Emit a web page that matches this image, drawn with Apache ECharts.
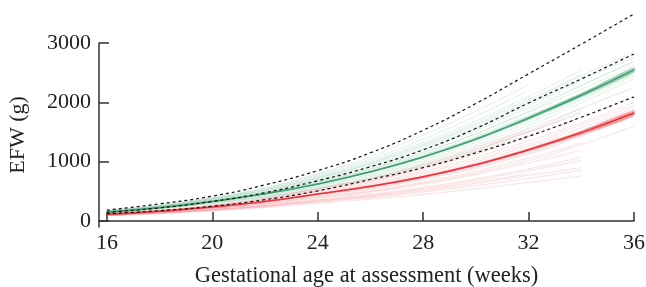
<!DOCTYPE html>
<html>
<head>
<meta charset="utf-8">
<script src="https://cdn.jsdelivr.net/npm/echarts@6/dist/echarts.min.js"></script>
<style>
    html, body { margin: 0; padding: 0; background: #fff; }
    #chart { width: 646px; height: 287px; }
</style>
</head>
<body>
<div id="chart"></div>
<script>
// 孕周 (weeks) 和各曲线的数值 (g)
var weeks = [16, 18, 20, 22, 24, 26, 28, 30, 32, 34, 36];
var refUpper = [185, 290, 420, 610, 850, 1150, 1530, 1980, 2480, 2980, 3490];
var refMedian = [150, 222, 331, 478, 680, 915, 1200, 1560, 1990, 2395, 2816];
var refLower = [125, 175, 250, 360, 510, 700, 900, 1150, 1430, 1750, 2093];
var greenMean = [150, 225, 330, 460, 625, 830, 1080, 1380, 1735, 2120, 2546];
var greenCI = [6, 6, 8, 10, 12, 15, 18, 22, 28, 36, 45];
var redMean = [110, 165, 235, 330, 455, 585, 745, 950, 1200, 1490, 1820];
var redCI = [6, 6, 8, 10, 12, 15, 18, 22, 28, 36, 45];

// 单个胎儿的轨迹 (faint lines)
var thinWeeks = [16, 20, 24, 28, 32, 34, 36];
var greenTrajs = [
    [170, 380, 760, 1330, 2100, 2550, null],
    [165, 360, 720, 1260, 1980, 2380, 2750],
    [160, 350, 690, 1200, 1900, 2290, 2680],
    [155, 345, 670, 1160, 1830, 2220, 2620],
    [150, 335, 640, 1110, 1760, 2150, 2560],
    [150, 330, 625, 1080, 1720, 2110, 2520],
    [145, 320, 600, 1040, 1660, 2040, 2450],
    [145, 315, 590, 1010, 1610, 1990, 2400],
    [140, 305, 570, 980, 1560, 1900, null],
    [175, 390, 780, 1380, 2200, null, null],
    [140, 300, 555, 950, 1500, 1820, null],
    [155, 340, 660, 1150, 1850, 2280, 2700],
    [160, 345, 655, 1120, 1780, 2150, null],
    [150, 330, 630, 1090, 1700, 2070, 2480],
    [135, 295, 540, 920, 1450, null, null],
    [165, 370, 740, 1300, 2050, 2470, null],
    [180, 400, 800, 1450, 2300, null, null],
    [170, 375, 730, 1280, 2020, 2450, 2850],
    [158, 352, 700, 1230, 1950, 2360, null]
];
var redTrajs = [
    [130, 260, 520, 880, 1420, 1750, null],
    [125, 250, 500, 840, 1350, 1660, 2000],
    [120, 240, 470, 780, 1260, 1570, 1900],
    [118, 235, 455, 740, 1200, 1500, 1830],
    [115, 225, 430, 700, 1130, 1430, 1760],
    [112, 220, 410, 660, 1060, 1320, null],
    [110, 210, 385, 620, 980, 1200, null],
    [105, 200, 360, 570, 880, 1080, null],
    [100, 190, 340, 530, 800, null, null],
    [95, 180, 320, 490, 720, 860, null],
    [125, 255, 510, 900, 1500, 1850, null],
    [120, 245, 480, 810, 1300, 1620, 1950],
    [115, 230, 440, 720, 1150, 1450, 1780],
    [108, 215, 395, 640, 1020, 1290, 1600],
    [102, 195, 350, 550, 850, 1020, null],
    [135, 270, 550, 950, 1550, null, null],
    [90, 170, 300, 450, 650, 760, null],
    [98, 185, 330, 510, 770, 900, null],
    [130, 265, 540, 930, 1520, 1900, 2250]
];
var xTicks = [16, 20, 24, 28, 32, 36];
var yTicks = [0, 1000, 2000, 3000];

var GREEN = '#3b9f6c';
var RED = '#e8353c';
var FONT = 'Liberation Serif';

function pairs(xs, ys) {
    var out = [];
    for (var i = 0; i < xs.length; i++) {
        if (ys[i] != null) out.push([xs[i], ys[i]]);
    }
    return out;
}

function lineSeries(data, color, width, type, z) {
    return {
        type: 'line',
        data: data,
        smooth: true,
        symbol: 'none',
        clip: false,
        silent: true,
        z: z,
        lineStyle: { color: color, width: width, type: type }
    };
}

// 均值曲线的置信区间带
function bandSeries(mid, ci, color) {
    var pts = weeks.map(function (w, i) { return [w, mid[i] - ci[i], mid[i] + ci[i]]; });
    return {
        type: 'custom',
        data: pts,
        silent: true,
        clip: false,
        z: 3,
        renderItem: function (params, api) {
            if (params.dataIndex !== 0) return;
            var up = [], lo = [];
            pts.forEach(function (p) {
                up.push(api.coord([p[0], p[2]]));
                lo.unshift(api.coord([p[0], p[1]]));
            });
            return {
                type: 'polygon',
                shape: { points: up.concat(lo), smooth: 0.3 },
                style: { fill: color }
            };
        }
    };
}

var series = [];
greenTrajs.forEach(function (t) {
    series.push(lineSeries(pairs(thinWeeks, t), 'rgba(60,160,110,0.16)', 1, 'solid', 1));
});
redTrajs.forEach(function (t) {
    series.push(lineSeries(pairs(thinWeeks, t), 'rgba(235,60,70,0.16)', 1, 'solid', 1));
});
series.push(bandSeries(greenMean, greenCI, 'rgba(60,160,110,0.45)'));
series.push(bandSeries(redMean, redCI, 'rgba(235,55,60,0.45)'));
series.push(lineSeries(pairs(weeks, greenMean), GREEN, 1.5, 'solid', 4));
series.push(lineSeries(pairs(weeks, redMean), RED, 1.5, 'solid', 4));
series.push(lineSeries(pairs(weeks, refUpper), '#111', 1.2, [3, 3], 5));
series.push(lineSeries(pairs(weeks, refMedian), '#111', 1.2, [3, 3], 5));
series.push(lineSeries(pairs(weeks, refLower), '#111', 1.2, [3, 3], 5));

function plain(v) { return String(v); }

var myChart = echarts.init(document.getElementById('chart'), null, { renderer: 'canvas' });
myChart.setOption({
    animation: false,
    grid: { left: 99, right: 12, top: 43, bottom: 60, containLabel: false, outerBoundsMode: 'none' },
    xAxis: {
        type: 'value',
        min: 15.7,
        max: 36,
        name: 'Gestational age at assessment (weeks)',
        nameLocation: 'middle',
        nameGap: 38,
        nameTextStyle: { fontFamily: FONT, fontSize: 22.5, color: '#222' },
        splitLine: { show: false },
        axisLine: { lineStyle: { color: '#333', width: 1.5 } },
        axisTick: { inside: true, length: 9, customValues: xTicks, lineStyle: { color: '#333', width: 1.5 } },
        axisLabel: { customValues: xTicks, formatter: plain, margin: 5, fontFamily: FONT, fontSize: 22, color: '#222' }
    },
    yAxis: {
        type: 'value',
        min: -100,
        max: 3000,
        name: 'EFW (g)',
        nameLocation: 'middle',
        nameGap: 70,
        nameTextStyle: { fontFamily: FONT, fontSize: 22, color: '#222' },
        splitLine: { show: false },
        axisLine: { show: true, lineStyle: { color: '#333', width: 1.5 } },
        axisTick: { show: true, inside: true, length: 10, customValues: yTicks, lineStyle: { color: '#333', width: 1.5 } },
        axisLabel: { customValues: yTicks, formatter: plain, margin: 8, fontFamily: FONT, fontSize: 22, color: '#222' }
    },
    series: series
});
</script>
</body>
</html>
